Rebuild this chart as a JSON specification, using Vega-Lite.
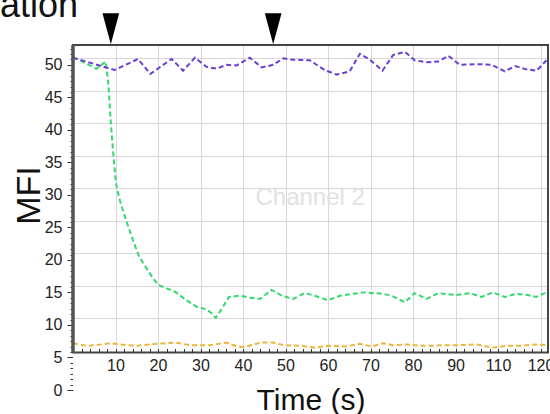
{
  "$schema": "https://vega.github.io/schema/vega-lite/v6.json",
  "width": 475,
  "height": 345,
  "autosize": {"type": "none"},
  "padding": {"left": 73, "top": 45, "right": 2, "bottom": 24},
  "background": "white",
  "view": {"stroke": null},
  "config": {"font": "Liberation Sans"},
  "resolve": {"axis": {"x": "independent", "y": "independent"}},
  "layer": [
    {
      "data": {"values": [{}]},
      "mark": {"type": "rect", "fill": "white"},
      "encoding": {
        "x": {"datum": 0, "type": "quantitative", "scale": {"domain": [0, 111.76], "nice": false, "zero": false}, "axis": null},
        "x2": {"datum": 111.76},
        "y": {"datum": 0, "type": "quantitative", "scale": {"domain": [0, 53.05], "nice": false, "zero": false},
          "axis": {"orient": "left", "grid": false, "domain": false, "labels": false, "title": null, "tickSize": 3, "tickColor": "#333",
            "values": [0.833,1.667,2.5,3.333,4.167,5.833,6.667,7.5,8.333,9.167,10.833,11.667,12.5,13.333,14.167,15.833,16.667,17.5,18.333,19.167,20.833,21.667,22.5,23.333,24.167,25.833,26.667,27.5,28.333,29.167,30.833,31.667,32.5,33.333,34.167,35.833,36.667,37.5,38.333,39.167,40.833,41.667,42.5,43.333,44.167,45.833,46.667,47.5,48.333,49.167,50.833,51.667,52.5]}},
        "y2": {"datum": 5.77}
      }
    },
    {
      "data": {"values": [{"label": "Channel 2"}]},
      "mark": {"type": "text", "fontSize": 24, "color": "#e2e2e2", "align": "center", "baseline": "middle"},
      "encoding": {
        "x": {"datum": 55.8, "type": "quantitative", "scale": {"domain": [0, 111.76], "nice": false, "zero": false}, "axis": null},
        "y": {"datum": 29.5, "type": "quantitative", "scale": {"domain": [0, 53.05], "nice": false, "zero": false}, "axis": null},
        "text": {"field": "label"}
      }
    },
    {
      "data": {"values": [
        {"t": 0, "v": 7.2, "s": "orange"}, {"t": 3.2, "v": 6.8, "s": "orange"}, {"t": 5.5, "v": 6.9, "s": "orange"}, {"t": 8.7, "v": 7.2, "s": "orange"},
        {"t": 12.6, "v": 6.9, "s": "orange"}, {"t": 15.0, "v": 6.8, "s": "orange"}, {"t": 19.6, "v": 7.1, "s": "orange"}, {"t": 24.0, "v": 7.3, "s": "orange"},
        {"t": 27.5, "v": 6.9, "s": "orange"}, {"t": 32.2, "v": 6.9, "s": "orange"}, {"t": 36.1, "v": 7.3, "s": "orange"}, {"t": 38.5, "v": 6.7, "s": "orange"},
        {"t": 40.3, "v": 6.6, "s": "orange"}, {"t": 44.2, "v": 7.3, "s": "orange"}, {"t": 47.0, "v": 7.3, "s": "orange"}, {"t": 49.5, "v": 6.9, "s": "orange"},
        {"t": 53.6, "v": 6.8, "s": "orange"}, {"t": 57.0, "v": 6.5, "s": "orange"}, {"t": 60.0, "v": 6.8, "s": "orange"}, {"t": 64.1, "v": 6.7, "s": "orange"},
        {"t": 67.4, "v": 7.1, "s": "orange"}, {"t": 70.3, "v": 6.7, "s": "orange"}, {"t": 73.0, "v": 7.2, "s": "orange"}, {"t": 75.3, "v": 6.9, "s": "orange"},
        {"t": 78.5, "v": 7.0, "s": "orange"}, {"t": 81.6, "v": 6.8, "s": "orange"}, {"t": 84.7, "v": 6.8, "s": "orange"}, {"t": 87.9, "v": 6.9, "s": "orange"},
        {"t": 91.0, "v": 6.9, "s": "orange"}, {"t": 94.9, "v": 7.0, "s": "orange"}, {"t": 98.8, "v": 6.5, "s": "orange"}, {"t": 102.0, "v": 6.8, "s": "orange"},
        {"t": 105.1, "v": 6.8, "s": "orange"}, {"t": 109.0, "v": 7.0, "s": "orange"}, {"t": 111.4, "v": 6.9, "s": "orange"},
        {"t": 0, "v": 51.2, "s": "green"}, {"t": 5.5, "v": 49.4, "s": "green"}, {"t": 7.7, "v": 50.5, "s": "green"}, {"t": 8.3, "v": 47.2, "s": "green"},
        {"t": 8.8, "v": 42.0, "s": "green"}, {"t": 9.4, "v": 36.9, "s": "green"}, {"t": 10.1, "v": 31.8, "s": "green"}, {"t": 11.0, "v": 29.2, "s": "green"},
        {"t": 12.2, "v": 26.7, "s": "green"}, {"t": 13.8, "v": 23.6, "s": "green"}, {"t": 15.5, "v": 20.6, "s": "green"}, {"t": 17.0, "v": 19.0, "s": "green"},
        {"t": 18.8, "v": 17.2, "s": "green"}, {"t": 20.0, "v": 16.2, "s": "green"}, {"t": 22.0, "v": 15.6, "s": "green"}, {"t": 23.6, "v": 15.3, "s": "green"},
        {"t": 26.7, "v": 13.8, "s": "green"}, {"t": 29.1, "v": 12.8, "s": "green"}, {"t": 31.4, "v": 12.4, "s": "green"}, {"t": 32.6, "v": 11.8, "s": "green"},
        {"t": 33.6, "v": 11.1, "s": "green"}, {"t": 35.3, "v": 12.8, "s": "green"}, {"t": 36.7, "v": 14.3, "s": "green"}, {"t": 39.2, "v": 14.5, "s": "green"},
        {"t": 41.6, "v": 14.2, "s": "green"}, {"t": 44.0, "v": 14.0, "s": "green"}, {"t": 46.7, "v": 15.4, "s": "green"}, {"t": 49.2, "v": 14.5, "s": "green"},
        {"t": 51.8, "v": 14.0, "s": "green"}, {"t": 54.5, "v": 14.9, "s": "green"}, {"t": 56.9, "v": 14.5, "s": "green"}, {"t": 60.0, "v": 13.8, "s": "green"},
        {"t": 62.8, "v": 14.5, "s": "green"}, {"t": 65.9, "v": 14.8, "s": "green"}, {"t": 68.3, "v": 15.0, "s": "green"}, {"t": 73.0, "v": 14.8, "s": "green"},
        {"t": 75.3, "v": 14.4, "s": "green"}, {"t": 78.1, "v": 13.5, "s": "green"}, {"t": 80.4, "v": 14.9, "s": "green"}, {"t": 83.2, "v": 14.0, "s": "green"},
        {"t": 85.9, "v": 14.9, "s": "green"}, {"t": 90.2, "v": 14.6, "s": "green"}, {"t": 93.4, "v": 14.9, "s": "green"}, {"t": 96.1, "v": 14.3, "s": "green"},
        {"t": 98.8, "v": 15.0, "s": "green"}, {"t": 101.6, "v": 14.3, "s": "green"}, {"t": 104.3, "v": 14.8, "s": "green"}, {"t": 107.0, "v": 14.6, "s": "green"},
        {"t": 109.0, "v": 14.3, "s": "green"}, {"t": 111.4, "v": 15.0, "s": "green"},
        {"t": 0, "v": 51.1, "s": "purple"}, {"t": 9.8, "v": 49.2, "s": "purple"}, {"t": 15.3, "v": 50.9, "s": "purple"}, {"t": 18.2, "v": 48.6, "s": "purple"},
        {"t": 23.2, "v": 50.9, "s": "purple"}, {"t": 25.9, "v": 49.1, "s": "purple"}, {"t": 28.7, "v": 51.1, "s": "purple"}, {"t": 31.4, "v": 49.7, "s": "purple"},
        {"t": 33.8, "v": 49.4, "s": "purple"}, {"t": 36.1, "v": 50.0, "s": "purple"}, {"t": 38.5, "v": 49.9, "s": "purple"}, {"t": 41.6, "v": 51.1, "s": "purple"},
        {"t": 44.4, "v": 49.6, "s": "purple"}, {"t": 47.1, "v": 50.0, "s": "purple"}, {"t": 49.5, "v": 51.0, "s": "purple"}, {"t": 51.5, "v": 50.8, "s": "purple"},
        {"t": 55.7, "v": 50.7, "s": "purple"}, {"t": 59.2, "v": 49.2, "s": "purple"}, {"t": 62.0, "v": 48.5, "s": "purple"}, {"t": 65.1, "v": 49.0, "s": "purple"},
        {"t": 67.5, "v": 51.7, "s": "purple"}, {"t": 69.8, "v": 50.8, "s": "purple"}, {"t": 72.8, "v": 49.1, "s": "purple"}, {"t": 75.3, "v": 51.5, "s": "purple"},
        {"t": 78.1, "v": 52.0, "s": "purple"}, {"t": 80.4, "v": 50.7, "s": "purple"}, {"t": 83.2, "v": 50.4, "s": "purple"}, {"t": 85.9, "v": 50.5, "s": "purple"},
        {"t": 88.3, "v": 51.4, "s": "purple"}, {"t": 91.0, "v": 50.0, "s": "purple"}, {"t": 95.7, "v": 50.1, "s": "purple"}, {"t": 98.5, "v": 50.0, "s": "purple"},
        {"t": 101.6, "v": 49.0, "s": "purple"}, {"t": 104.0, "v": 49.8, "s": "purple"}, {"t": 106.7, "v": 49.3, "s": "purple"}, {"t": 109.1, "v": 49.1, "s": "purple"},
        {"t": 111.4, "v": 50.7, "s": "purple"}
      ]},
      "mark": {"type": "line", "strokeWidth": 2, "strokeDash": [5, 3]},
      "encoding": {
        "x": {"field": "t", "type": "quantitative", "scale": {"domain": [0, 111.76], "nice": false, "zero": false},
          "axis": {"orient": "bottom", "grid": true, "gridColor": "#d8d8d8", "gridWidth": 1, "labels": false, "ticks": false, "domain": false, "title": null,
            "values": [10, 20, 30, 40, 50, 60, 70, 80, 90, 100, 110]}},
        "y": {"field": "v", "type": "quantitative", "scale": {"domain": [0, 53.05], "nice": false, "zero": false},
          "axis": {"orient": "left", "grid": true, "gridColor": "#d8d8d8", "gridWidth": 1, "labels": false, "ticks": false, "domain": false, "title": null,
            "values": [11, 16, 21, 26, 31, 36, 41, 46, 51]}},
        "color": {"field": "s", "type": "nominal", "scale": {"domain": ["orange", "green", "purple"], "range": ["#eeb53c", "#34d96c", "#6a3fd6"]}, "legend": null},
        "order": {"field": "t", "type": "quantitative"}
      }
    },
    {
      "data": {"values": [{}]},
      "mark": {"type": "rect", "fill": null, "stroke": "#454545", "strokeWidth": 2},
      "encoding": {
        "x": {"datum": 0, "type": "quantitative", "scale": {"domain": [0, 111.76], "nice": false, "zero": false},
          "axis": {"orient": "bottom", "offset": -37.5, "zindex": 1, "grid": false, "domain": false,
            "values": [2,4,6,8,10,12,14,16,18,20,22,24,26,28,30,32,34,36,38,40,42,44,46,48,50,52,54,56,58,60,62,64,66,68,70,72,74,76,78,80,82,84,86,88,90,92,94,96,98,100,102,104,106,108,110],
            "labelExpr": "datum.value % 10 == 0 ? (datum.value >= 100 ? datum.value + 10 : datum.value) + '' : ''",
            "labelOverlap": false, "labelFlush": false, "labelFontSize": 16, "labelColor": "#222", "labelPadding": 9,
            "tickSize": -4, "tickColor": "#333",
            "title": "Time (s)", "titleFontSize": 30, "titleFontWeight": "normal", "titleColor": "#111", "titleBaseline": "alphabetic", "titleY": 57}},
        "x2": {"datum": 111.76},
        "y": {"datum": 5.77, "type": "quantitative", "scale": {"domain": [0, 53.05], "nice": false, "zero": false},
          "axis": {"orient": "left", "grid": false, "domain": false, "values": [0, 5, 10, 15, 20, 25, 30, 35, 40, 45, 50],
            "tickSize": 6, "tickColor": "#333", "labelFontSize": 16, "labelColor": "#222", "labelPadding": 5,
            "title": "MFI", "titleFontSize": 34, "titleFontWeight": "normal", "titleColor": "#111", "titleAngle": -90, "titleAlign": "center", "titleBaseline": "alphabetic", "titleX": -34, "titleY": 150}},
        "y2": {"datum": 53.05}
      }
    },
    {
      "data": {"values": [{}]},
      "mark": {"type": "rule", "color": "#555", "strokeWidth": 3.5},
      "encoding": {
        "x": {"datum": 0, "type": "quantitative", "scale": {"domain": [0, 111.76], "nice": false, "zero": false}, "axis": null},
        "y": {"datum": 5.77, "type": "quantitative", "scale": {"domain": [0, 53.05], "nice": false, "zero": false}, "axis": null},
        "y2": {"datum": 53.05}
      }
    },
    {
      "data": {"values": [{"t": 8.9}, {"t": 47.1}]},
      "mark": {"type": "point", "filled": true, "shape": "M-1,-1.86L1,-1.86L0,1.86Z", "size": 279, "color": "black", "opacity": 1},
      "encoding": {
        "x": {"field": "t", "type": "quantitative", "scale": {"domain": [0, 111.76], "nice": false, "zero": false}, "axis": null},
        "y": {"datum": 55.54, "type": "quantitative", "scale": {"domain": [0, 53.05], "nice": false, "zero": false}, "axis": null}
      }
    },
    {
      "data": {"values": [{"label": "ation"}]},
      "mark": {"type": "text", "fontSize": 36, "color": "#111", "align": "left", "baseline": "alphabetic"},
      "encoding": {
        "x": {"datum": -17.2, "type": "quantitative", "scale": {"domain": [0, 111.76], "nice": false, "zero": false}, "axis": null},
        "y": {"datum": 57.4, "type": "quantitative", "scale": {"domain": [0, 53.05], "nice": false, "zero": false}, "axis": null},
        "text": {"field": "label"}
      }
    }
  ]
}
